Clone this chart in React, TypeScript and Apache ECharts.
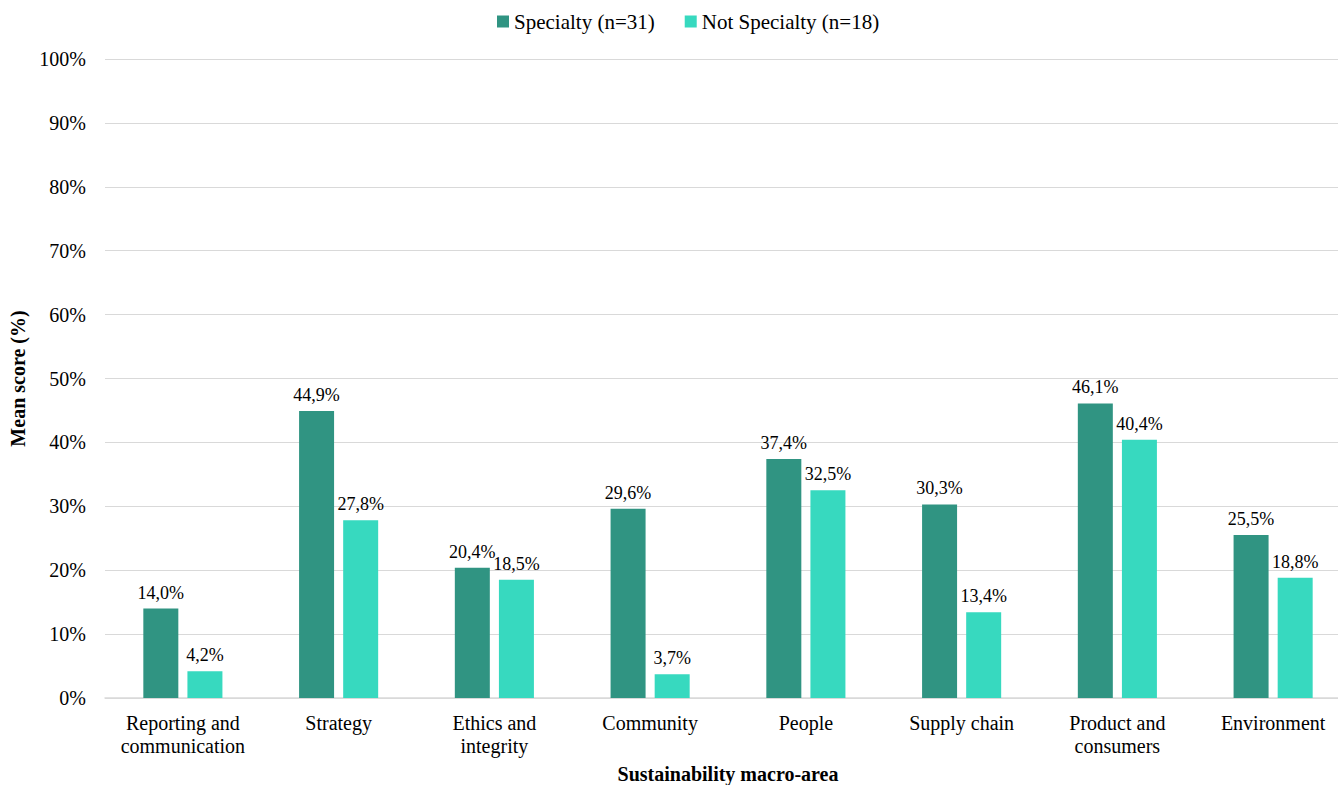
import React, { useEffect, useRef } from "react";
import * as echarts from "echarts";

const categories = [
  "Reporting and\ncommunication",
  "Strategy",
  "Ethics and\nintegrity",
  "Community",
  "People",
  "Supply chain",
  "Product and\nconsumers",
  "Environment",
];
const specialty = [14.0, 44.9, 20.4, 29.6, 37.4, 30.3, 46.1, 25.5];
const notSpecialty = [4.2, 27.8, 18.5, 3.7, 32.5, 13.4, 40.4, 18.8];
const seriesNames = ["Specialty (n=31)", "Not Specialty (n=18)"];

const FONT = "Liberation Serif";

export default function App() {
  const ref = useRef<HTMLDivElement>(null);
  useEffect(() => {
    if (!ref.current) return;
    const chart = echarts.init(ref.current, undefined, { renderer: "svg" });
    const labelCfg = {
      show: true,
      position: "top",
      distance: 7,
      color: "#000",
      fontFamily: FONT,
      fontSize: 18,
      formatter: (p: any) => p.value.toFixed(1).replace(".", ",") + "%",
    };
    chart.setOption({
      animation: false,
      textStyle: { fontFamily: FONT },
      legend: {
        top: 6,
        left: 492,
        itemWidth: 12,
        itemHeight: 12,
        itemGap: 30,
        icon: "rect",
        textStyle: { fontFamily: FONT, fontSize: 21, color: "#000" },
        data: seriesNames,
      },
      grid: {
        left: 105,
        width: 1246,
        top: 59,
        height: 639,
        containLabel: false,
        outerBoundsMode: "none",
      },
      xAxis: {
        type: "category",
        data: categories,
        name: "Sustainability macro-area",
        nameLocation: "middle",
        nameGap: 66,
        nameTextStyle: { fontFamily: FONT, fontSize: 20, fontWeight: "bold", color: "#000" },
        axisLine: { lineStyle: { color: "#d9d9d9", width: 1.5 } },
        axisTick: { show: false },
        axisLabel: { fontFamily: FONT, fontSize: 20, color: "#000", margin: 13, lineHeight: 23, interval: 0 },
      },
      yAxis: {
        type: "value",
        min: 0,
        max: 100,
        interval: 10,
        name: "Mean score (%)",
        nameLocation: "middle",
        nameGap: 73,
        nameRotate: 90,
        nameTextStyle: { fontFamily: FONT, fontSize: 20, fontWeight: "bold", color: "#000" },
        axisLine: { show: false },
        axisTick: { show: false },
        axisLabel: { fontFamily: FONT, fontSize: 20, color: "#000", margin: 19, formatter: "{value}%" },
        splitLine: { lineStyle: { color: "#d9d9d9", width: 1 } },
      },
      series: [
        {
          name: seriesNames[0],
          type: "bar",
          data: specialty,
          barWidth: 35,
          barGap: "26%",
          itemStyle: { color: "#309482" },
          label: labelCfg,
        },
        {
          name: seriesNames[1],
          type: "bar",
          data: notSpecialty,
          barWidth: 35,
          itemStyle: { color: "#37D9BF" },
          label: labelCfg,
        },
      ],
    });
    return () => chart.dispose();
  }, []);
  return (
    <div
      ref={ref}
      style={{ position: "absolute", left: 0, top: 0, width: 1338, height: 785, overflow: "hidden" }}
    />
  );
}
